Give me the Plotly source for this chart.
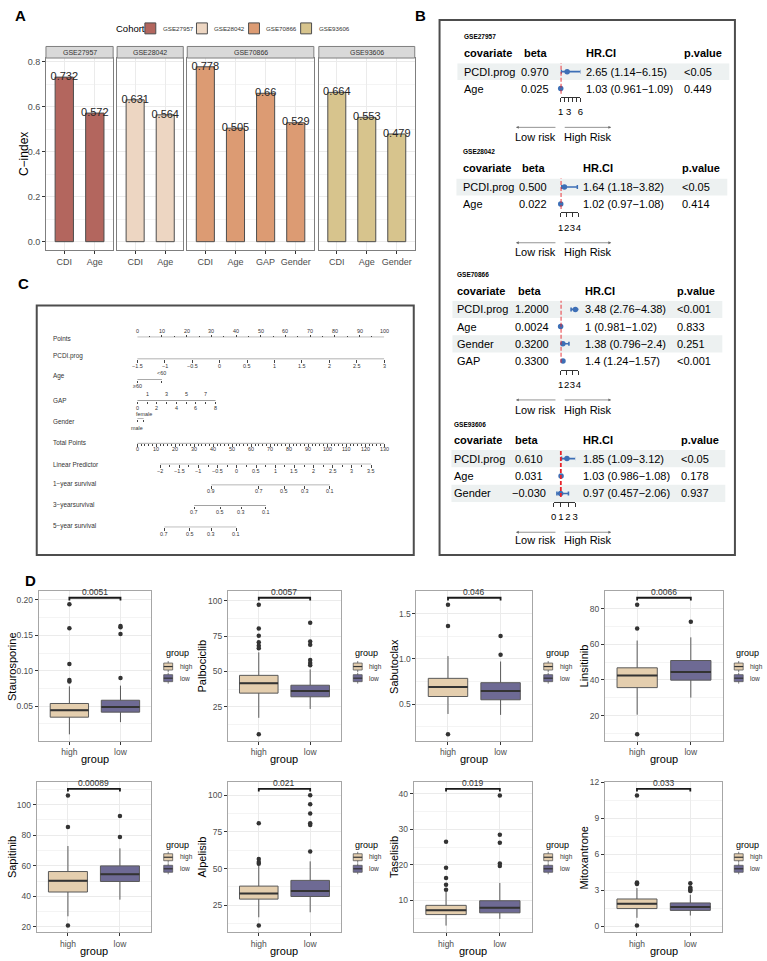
import plotly.graph_objects as go

W, H = 767, 961
FONT = "Liberation Sans, Arial, Helvetica, sans-serif"


def fx(p):
    return p / W


def fy(p):
    return 1 - p / H


# ======================= DATA =======================
# ---- Panel A: C-index per cohort ----
cohorts = ["GSE27957", "GSE28042", "GSE70866", "GSE93606"]
cohort_colors = ["#B3665E", "#EDD6C2", "#DC9B73", "#D7C48D"]
a_variables = [["CDI", "Age"], ["CDI", "Age"], ["CDI", "Age", "GAP", "Gender"], ["CDI", "Age", "Gender"]]
a_cindex = [[0.732, 0.572], [0.631, 0.564], [0.778, 0.505, 0.66, 0.529], [0.664, 0.553, 0.479]]
a_yticks = [0.0, 0.2, 0.4, 0.6, 0.8]
a_yminor = [0.1, 0.3, 0.5, 0.7]

# ---- Panel B: forest plots ----
b_covariates = [["PCDI.prog", "Age"], ["PCDI.prog", "Age"],
                ["PCDI.prog", "Age", "Gender", "GAP"], ["PCDI.prog", "Age", "Gender"]]
b_beta = [["0.970", "0.025"], ["0.500", "0.022"],
          ["1.2000", "0.0024", "0.3200", "0.3300"], ["0.610", "0.031", "\u22120.030"]]
b_hr = [[2.65, 1.03], [1.64, 1.02], [3.48, 1.0, 1.38, 1.4], [1.85, 1.03, 0.97]]
b_lo = [[1.14, 0.961], [1.18, 0.97], [2.76, 0.981, 0.796, 1.24], [1.09, 0.986, 0.457]]
b_hi = [[6.15, 1.09], [3.82, 1.08], [4.38, 1.02, 2.4, 1.57], [3.12, 1.08, 2.06]]
b_pval = [["<0.05", "0.449"], ["<0.05", "0.414"], ["<0.001", "0.833", "0.251", "<0.001"],
          ["<0.05", "0.178", "0.937"]]
b_ticks = [[1, 2, 3, 4, 5, 6], [1, 2, 3, 4], [1, 2, 3, 4], [0, 1, 2, 3]]
b_ticklabels = [["1", "", "3", "", "", "6"], ["1", "2", "3", "4"], ["1", "2", "3", "4"], ["0", "1", "2", "3"]]

# ---- Panel C: nomogram ----
nomo_points = [0, 10, 20, 30, 40, 50, 60, 70, 80, 90, 100]
nomo_points_minor = [5, 15, 25, 35, 45, 55, 65, 75, 85, 95]
nomo_pcdi = [-1.5, -1.0, -0.5, 0.0, 0.5, 1.0, 1.5, 2.0, 2.5, 3.0]
nomo_age_levels = ["\u226560", "<60"]
nomo_age_points = [0, 10]
nomo_gap = [0, 1, 2, 3, 4, 5, 6, 7, 8]
nomo_gap_max_points = 31.7
nomo_gender_levels = ["male", "female"]
nomo_gender_points = [0, 2.6]
nomo_total = [0, 10, 20, 30, 40, 50, 60, 70, 80, 90, 100, 110, 120, 130]
nomo_total_minor = [t for t in range(0, 131, 2) if t % 10]
nomo_lp = [-2.0, -1.5, -1.0, -0.5, 0.0, 0.5, 1.0, 1.5, 2.0, 2.5, 3.0, 3.5]
nomo_lp_minor = [-1.75, -1.25, -0.75, -0.25, 0.25, 0.75, 1.25, 1.75, 2.25, 2.75, 3.25]
nomo_lp_total_points = [12.0, 123.1]   # total points at LP = -2 and LP = 3.5
surv1_labels = ["0.9", "0.7", "0.5", "0.3", "0.1"]
surv1_total_points = [39.0, 63.9, 77.3, 88.2, 101.3]
surv3_labels = ["0.7", "0.5", "0.3", "0.1"]
surv3_total_points = [30.0, 43.7, 54.7, 67.7]
surv5_labels = ["0.7", "0.5", "0.3", "0.1"]
surv5_total_points = [14.3, 27.7, 39.0, 52.1]

# ---- Panel D: drug sensitivity boxplots ----
d_drugs = ["Staurosporine", "Palbociclib", "Sabutoclax", "Linsitinib",
           "Sapitinib", "Alpelisib", "Taselisib", "Mitoxantrone"]
d_pvals = ["0.0051", "0.0057", "0.046", "0.0066", "0.00089", "0.021", "0.019", "0.033"]
# [lower whisker, q1, median, q3, upper whisker]
d_high_stats = [[0.0103, 0.0345, 0.0444, 0.0538, 0.078],
                [17.1, 34.6, 41.6, 47.2, 63.5],
                [0.39, 0.583, 0.689, 0.784, 1.03],
                [20.5, 35.7, 42.5, 46.8, 62.1],
                [26.9, 42.8, 50.1, 56.2, 72.9],
                [16.7, 29.1, 32.9, 38.0, 52.0],
                [2.9, 6.0, 7.2, 8.6, 12.4],
                [0.7, 1.47, 1.88, 2.27, 3.18]]
d_low_stats = [[0.0275, 0.0416, 0.049, 0.0584, 0.079],
               [23.4, 32.0, 36.2, 40.2, 51.4],
               [0.38, 0.547, 0.645, 0.736, 0.97],
               [30.1, 39.9, 44.5, 50.9, 63.9],
               [37.8, 49.7, 54.5, 59.9, 71.4],
               [20.1, 30.9, 34.7, 41.9, 54.9],
               [4.8, 6.5, 7.9, 9.9, 14.9],
               [0.89, 1.32, 1.61, 1.94, 2.62]]
d_high_out = [[0.1937, 0.16, 0.1094, 0.087, 0.085],
              [97.3, 80.5, 75.2, 70.7, 68.2, 66.5, 5.4],
              [1.598, 1.362, 0.165],
              [82.2, 68.9, 9.5],
              [106.0, 85.4, 20.8],
              [80.9, 56.6, 54.5, 53.2, 11.0],
              [26.5, 19.2, 16.3, 14.4, 13.0],
              [10.9, 3.64, 3.58, 3.52, 0.05]]
d_low_out = [[0.1633, 0.1614, 0.152, 0.0897],
             [84.5, 71.2, 68.9, 58.0, 56.0, 54.3],
             [1.253, 1.046],
             [72.6],
             [92.6, 78.9],
             [100.0, 93.9, 87.6, 80.9, 79.7, 61.7],
             [39.5, 28.5, 26.2, 20.4, 19.7],
             [3.59, 3.23, 3.1, 3.02, 2.93]]
d_bracket_y = [0.203, 102.2, 1.675, 86.1, 110.4, 104.5, 41.4, 11.46]
d_yticks = [[0.05, 0.10, 0.15, 0.20], [25, 50, 75, 100], [0.5, 1.0, 1.5], [20, 40, 60, 80],
            [20, 40, 60, 80, 100], [25, 50, 75, 100], [10, 20, 30, 40], [0, 3, 6, 9, 12]]
d_yticklabels = [["0.05", "0.10", "0.15", "0.20"], ["25", "50", "75", "100"], ["0.5", "1.0", "1.5"],
                 ["20", "40", "60", "80"], ["20", "40", "60", "80", "100"], ["25", "50", "75", "100"],
                 ["10", "20", "30", "40"], ["0", "3", "6", "9", "12"]]
d_groups = ["high", "low"]
d_group_colors = ["#E4CEAE", "#6E6A94"]

# ======================= FIGURE =======================
traces = []
shapes = []
annotations = []
layout = dict(width=W, height=H, autosize=False, margin=dict(l=0, r=0, t=0, b=0),
              paper_bgcolor="white", plot_bgcolor="white", showlegend=False,
              hovermode=False, font=dict(family=FONT, color="#000000"))
n_ax = [0]


def new_axes(xdom, ydom, xa, ya):
    """xdom=(left_px,right_px), ydom=(top_px,bottom_px)"""
    n_ax[0] += 1
    s = "" if n_ax[0] == 1 else str(n_ax[0])
    xa = dict(xa)
    ya = dict(ya)
    xa.update(domain=[fx(xdom[0]), fx(xdom[1])], anchor="y" + s)
    ya.update(domain=[fy(ydom[1]), fy(ydom[0])], anchor="x" + s)
    layout["xaxis" + s] = xa
    layout["yaxis" + s] = ya
    return "x" + s, "y" + s


def ann(text, x, y, size, color="#000000", xanchor="center", yanchor="middle",
        xref="paper", yref="paper", angle=0, **kw):
    d = dict(text=text, x=fx(x) if xref == "paper" else x,
             y=fy(y) if yref == "paper" else y,
             xref=xref, yref=yref, xanchor=xanchor, yanchor=yanchor, showarrow=False,
             textangle=angle, font=dict(size=size, color=color, family=FONT))
    d.update(kw)
    return d


def rect(x0, x1, y0, y1, fill, line="#555", lw=1.0):
    return dict(type="rect", xref="paper", yref="paper", x0=fx(x0), x1=fx(x1),
                y0=fy(y1), y1=fy(y0), fillcolor=fill, line=dict(color=line, width=lw))


def seg(x0, y0, x1, y1, color="#555", lw=1.0):
    return dict(type="line", xref="paper", yref="paper", x0=fx(x0), x1=fx(x1),
                y0=fy(y0), y1=fy(y1), line=dict(color=color, width=lw))


# panel letters
for letter, (lx, ly) in zip("ABCD", [(18, 11), (421, 11), (21, 280), (28, 579)]):
    annotations.append(ann("<b>%s</b>" % letter, lx, ly, 15, "#000"))

# ---------------- Panel A ----------------
A_top, A_bot = 53.3, 246.7
a_xdoms = [(43.3, 111.0), (115.0, 181.7), (185.7, 313.3), (318.3, 415.0)]
a_max = max(max(v) for v in a_cindex)
a_range = [-0.05 * a_max, 1.05 * a_max]
for i, (coh, col, vars_, vals) in enumerate(zip(cohorts, cohort_colors, a_variables, a_cindex)):
    xa = dict(type="category", range=[-0.6, len(vars_) - 0.4], showline=True, mirror=True,
              linecolor="#7F7F7F", linewidth=1, ticks="outside", ticklen=3, tickcolor="#333",
              tickfont=dict(size=9, color="#4D4D4D"), showgrid=True, gridcolor="#EBEBEB",
              zeroline=False, fixedrange=True, tickangle=0)
    ya = dict(range=a_range, tickvals=a_yticks, ticktext=["%.1f" % t for t in a_yticks],
              showticklabels=(i == 0), ticks="outside" if i == 0 else "", ticklen=3,
              tickcolor="#333", tickfont=dict(size=9, color="#4D4D4D"), showline=True,
              mirror=True, linecolor="#7F7F7F", linewidth=1, showgrid=True,
              gridcolor="#EBEBEB", zeroline=False, fixedrange=True,
              minor=dict(tickvals=a_yminor, showgrid=True, gridcolor="#F4F4F4", gridwidth=0.6))
    xr, yr = new_axes(a_xdoms[i], (A_top, A_bot), xa, ya)
    traces.append(go.Bar(x=vars_, y=vals, xaxis=xr, yaxis=yr, width=0.6,
                         marker=dict(color=col, line=dict(color="#4D4D4D", width=1))))
    traces.append(go.Scatter(x=vars_, y=vals, mode="text", text=["%g" % v for v in vals],
                             textfont=dict(size=11, color="#262626", family=FONT),
                             xaxis=xr, yaxis=yr, cliponaxis=False))
    shapes.append(rect(a_xdoms[i][0], a_xdoms[i][1], 41.7, A_top, "#D9D9D9", "#7F7F7F", 1))
    annotations.append(ann(coh, (a_xdoms[i][0] + a_xdoms[i][1]) / 2, 47.6, 7, "#333333"))

annotations.append(ann("C\u2212index", 21, 150, 12, "#000000", angle=-90))
annotations.append(ann("Cohort", 112, 23.5, 9.5, "#000000", xanchor="left"))
for sx, coh, col in zip([143, 195, 247.5, 300], cohorts, cohort_colors):
    shapes.append(rect(sx, sx + 11, 18, 29, col, "#4D4D4D", 1))
    annotations.append(ann(coh, sx + 16, 23.5, 6.2, "#333333", xanchor="left"))

# ---------------- Panel B ----------------
shapes.append(rect(440, 737.7, 15, 553, "rgba(0,0,0,0)", "#4D4D4D", 2))
b_layout = [
    dict(label_y=32, head_y=48, row0=67.0, dy=17.0, arrow_y=123, risk_y=133, x_cov=463,
         x_beta=523, beta_c=536.5, x_hr=586, x_p=684, band=(458, 732), axis=(562, 582)),
    dict(label_y=147, head_y=164, row0=183.0, dy=17.0, arrow_y=239, risk_y=248, x_cov=462,
         x_beta=521, beta_c=534.5, x_hr=583, x_p=682, band=(457, 730), axis=(562, 580)),
    dict(label_y=271, head_y=287, row0=306.0, dy=17.3, arrow_y=397, risk_y=407, x_cov=456,
         x_beta=517, beta_c=533.5, x_hr=585, x_p=677, band=(453, 725), axis=(562, 580)),
    dict(label_y=422, head_y=437, row0=456.0, dy=17.5, arrow_y=530, risk_y=538, x_cov=453,
         x_beta=514, beta_c=530.5, x_hr=583, x_p=681, band=(452, 728), axis=(555, 576.7)),
]
BLUE = "#3D6FB6"
for k in range(4):
    L = b_layout[k]
    covs = b_covariates[k]
    n = len(covs)
    top = L["row0"] - L["dy"] / 2
    bot = L["row0"] + L["dy"] * (n - 1) + L["dy"] / 2
    xa = dict(range=[b_ticks[k][0], b_ticks[k][-1]], tickvals=b_ticks[k], ticktext=b_ticklabels[k],
              showline=True, linecolor="#333", linewidth=0.8, ticks="outside", ticklen=4,
              tickwidth=0.8, tickcolor="#333", tickfont=dict(size=9.5, color="#000000"),
              showgrid=False, zeroline=False, ticklabelstandoff=2, fixedrange=True,
              tickangle=0, ticklabeloverflow="allow")
    ya = dict(range=[n - 0.5, -0.5], visible=False, fixedrange=True)
    xr, yr = new_axes(L["axis"], (top, bot), xa, ya)
    for i in range(0, n, 2):
        shapes.append(dict(type="rect", xref="paper", yref=yr, x0=fx(L["band"][0]),
                           x1=fx(L["band"][1]), y0=i - 0.5, y1=i + 0.5, fillcolor="#EDF1F1",
                           line=dict(width=0), layer="below"))
    shapes.append(dict(type="line", xref=xr, yref=yr + " domain", x0=1, x1=1, y0=0.1, y1=1,
                       line=dict(color="#E8242A", width=1.8, dash="4px,2px")))
    hr, lo, hi = b_hr[k], b_lo[k], b_hi[k]
    traces.append(go.Scatter(
        x=hr, y=list(range(n)), mode="markers", xaxis=xr, yaxis=yr, cliponaxis=False,
        marker=dict(size=5.5, color=BLUE),
        error_x=dict(type="data", symmetric=False, array=[h - c for c, h in zip(hr, hi)],
                     arrayminus=[c - l for c, l in zip(hr, lo)], color=BLUE, thickness=1.6, width=2)))
    annotations.append(ann("<b>%s</b>" % cohorts[k], L["x_cov"], L["label_y"], 6.5, "#000000",
                           xanchor="left"))
    for txt, xx in [("covariate", L["x_cov"]), ("beta", L["x_beta"]), ("HR.CI", L["x_hr"]),
                    ("p.value", L["x_p"])]:
        annotations.append(ann("<b>%s</b>" % txt, xx, L["head_y"], 11, "#000000", xanchor="left"))
    for i in range(n):
        hrci = "%g (%g\u2212%g)" % (hr[i], lo[i], hi[i])
        annotations.append(ann(covs[i], L["x_cov"], i, 11, "#000000", xanchor="left", yref=yr))
        annotations.append(ann(b_beta[k][i], L["beta_c"], i, 11, "#000000", yref=yr))
        annotations.append(ann(hrci, L["x_hr"], i, 11, "#000000", xanchor="left", yref=yr))
        annotations.append(ann(b_pval[k][i], L["x_p"], i, 11, "#000000", xanchor="left", yref=yr))
    # risk arrows
    for head, tail in [(517, 558), (613, 565)]:
        annotations.append(dict(text="", x=fx(head), y=fy(L["arrow_y"]), xref="paper", yref="paper",
                                showarrow=True, ax=tail - head, ay=0, axref="pixel", ayref="pixel",
                                arrowhead=2, arrowsize=0.8, arrowwidth=0.7, arrowcolor="#666"))
    annotations.append(ann("Low risk", 537, L["risk_y"], 11, "#000000"))
    annotations.append(ann("High Risk", 590, L["risk_y"], 11, "#000000"))

# ---------------- Panel C ----------------
shapes.append(rect(34, 414, 302, 553, "rgba(0,0,0,0)", "#4D4D4D", 2))
NX = (135.3, 384.3)


def fmt(v):
    return ("%g" % v).replace("-", "\u2212")


lp_scale = (nomo_lp_total_points[1] - nomo_lp_total_points[0]) / (nomo_lp[-1] - nomo_lp[0])


def lp_tp(v):
    return nomo_lp_total_points[0] + (v - nomo_lp[0]) * lp_scale


pcdi_pts = [(v - nomo_pcdi[0]) / (nomo_pcdi[-1] - nomo_pcdi[0]) * 100 for v in nomo_pcdi]
gap_pts = [v / nomo_gap[-1] * nomo_gap_max_points for v in nomo_gap]
nomo_rows = [
    dict(name="Points", name_y=335, line_y=334, unit=100, pos=nomo_points,
         labels=[fmt(v) for v in nomo_points], lab_y=[328] * 11, minor=nomo_points_minor, tdir="inside"),
    dict(name="PCDI.prog", name_y=353, line_y=356, unit=100, pos=pcdi_pts,
         labels=[fmt(v) for v in nomo_pcdi], lab_y=[362.7] * 10, minor=None, tdir="outside"),
    dict(name="Age", name_y=373, line_y=376.7, unit=100, pos=nomo_age_points,
         labels=nomo_age_levels, lab_y=[383, 370], minor=None, tdir="outside"),
    dict(name="GAP", name_y=398, line_y=397.7, unit=100, pos=gap_pts,
         labels=[fmt(v) for v in nomo_gap], lab_y=[405 if v % 2 == 0 else 391 for v in nomo_gap],
         minor=None, tdir="outside"),
    dict(name="Gender", name_y=419, line_y=415.7, unit=100, pos=nomo_gender_points,
         labels=nomo_gender_levels, lab_y=[425.5, 411.5], minor=None, tdir="outside"),
    dict(name="Total Points", name_y=440, line_y=440.7, unit=130, pos=nomo_total,
         labels=[fmt(v) for v in nomo_total], lab_y=[446.7] * 14, minor=nomo_total_minor, tdir="outside"),
    dict(name="Linear Predictor", name_y=462, line_y=461.7, unit=130, pos=[lp_tp(v) for v in nomo_lp],
         labels=[fmt(v) for v in nomo_lp], lab_y=[468.3] * 12, minor=[lp_tp(v) for v in nomo_lp_minor],
         tdir="outside"),
    dict(name="1\u2212year survival", name_y=482, line_y=482.7, unit=130, pos=surv1_total_points,
         labels=surv1_labels, lab_y=[489] * 5, minor=None, tdir="outside"),
    dict(name="3\u2212yearsurvival", name_y=503, line_y=503.3, unit=130, pos=surv3_total_points,
         labels=surv3_labels, lab_y=[510] * 4, minor=None, tdir="outside"),
    dict(name="5\u2212year survival", name_y=524, line_y=525, unit=130, pos=surv5_total_points,
         labels=surv5_labels, lab_y=[531.7] * 4, minor=None, tdir="outside"),
]
for r in nomo_rows:
    xa = dict(range=[0, r["unit"]], tickvals=r["pos"], showticklabels=False, ticks=r["tdir"],
              ticklen=2.5, tickwidth=0.6, tickcolor="#444", showline=False, showgrid=False,
              zeroline=False, fixedrange=True)
    if r["minor"]:
        xa["minor"] = dict(tickvals=r["minor"], ticks=r["tdir"], ticklen=1.6, tickwidth=0.5,
                           tickcolor="#444", showgrid=False)
    ya = dict(range=[0, 2], visible=False, fixedrange=True)
    xr, yr = new_axes(NX, (r["line_y"] - 2, r["line_y"]), xa, ya)
    traces.append(go.Scatter(x=[min(r["pos"]), max(r["pos"])], y=[0, 0], mode="lines",
                             line=dict(color="#444", width=0.8), xaxis=xr, yaxis=yr, cliponaxis=False))
    annotations.append(ann(r["name"], 48.3, r["name_y"], 6.4, "#333333", xanchor="left"))
    for p, lab, ly in zip(r["pos"], r["labels"], r["lab_y"]):
        annotations.append(ann(lab, p, ly, 5.4, "#333333", xref=xr))

# ---------------- Panel D ----------------
d_xdoms = [[(36, 149.3), (226.7, 340.7), (416.7, 533.3), (606.7, 725.7)],
           [(34, 149.3), (226.7, 340.7), (414, 533.3), (606.7, 725)]]
d_ydoms = [(589, 740), (781, 932.3)]
d_leg_x = [162, 353, 545, 737]
d_leg_y = [(651.7, 665, 676.7), (844.3, 856.7, 868.3)]
d_title_x = [9, 201, 394, 586]
d_group_y = [758, 951]

for k, drug in enumerate(d_drugs):
    row, col = divmod(k, 4)
    xd, yd = d_xdoms[row][col], d_ydoms[row]
    allv = d_high_stats[k] + d_low_stats[k] + d_high_out[k] + d_low_out[k] + [d_bracket_y[k]]
    lo, hi = min(allv), max(allv)
    span = hi - lo
    rng = [lo - 0.05 * span, hi + 0.05 * span]
    ticks = d_yticks[k]
    step = ticks[1] - ticks[0]
    minor = [t + step / 2 for t in [ticks[0] - step] + ticks if rng[0] < t + step / 2 < rng[1]]
    xa = dict(range=[0.4, 2.6], tickvals=[1, 2], ticktext=d_groups, showline=True, mirror=True,
              linecolor="#A6A6A6", linewidth=1, ticks="outside", ticklen=3, tickcolor="#333",
              tickfont=dict(size=8.5, color="#4D4D4D"), showgrid=True, gridcolor="#EBEBEB",
              zeroline=False, fixedrange=True)
    ya = dict(range=rng, tickvals=ticks, ticktext=d_yticklabels[k], showline=True, mirror=True,
              linecolor="#A6A6A6", linewidth=1, ticks="outside", ticklen=3, tickcolor="#333",
              tickfont=dict(size=8.5, color="#4D4D4D"), showgrid=True, gridcolor="#EBEBEB",
              zeroline=False, fixedrange=True,
              minor=dict(tickvals=minor, showgrid=True, gridcolor="#F4F4F4", gridwidth=0.6))
    xr, yr = new_axes(xd, yd, xa, ya)
    for gi, (stats, outs, color) in enumerate([(d_high_stats[k], d_high_out[k], d_group_colors[0]),
                                                (d_low_stats[k], d_low_out[k], d_group_colors[1])]):
        xpos = gi + 1
        traces.append(go.Box(x=[xpos], lowerfence=[stats[0]], q1=[stats[1]], median=[stats[2]],
                             q3=[stats[3]], upperfence=[stats[4]], width=0.75, whiskerwidth=0,
                             fillcolor=color, line=dict(color="#595959", width=1), boxpoints=False,
                             orientation="v", xaxis=xr, yaxis=yr))
        m = stats[2]
        traces.append(go.Box(x=[xpos], lowerfence=[m], q1=[m], median=[m], q3=[m], upperfence=[m],
                             width=0.75, whiskerwidth=0, fillcolor="rgba(0,0,0,0)",
                             line=dict(color="#333", width=2), boxpoints=False, orientation="v",
                             xaxis=xr, yaxis=yr))
        traces.append(go.Scatter(x=[xpos] * len(outs), y=outs, mode="markers",
                                 marker=dict(size=4.5, color="#333"), xaxis=xr, yaxis=yr,
                                 cliponaxis=False))
    b = d_bracket_y[k]
    tip = 0.02 * span
    traces.append(go.Scatter(x=[1, 1, 2, 2], y=[b - tip, b, b, b - tip], mode="lines",
                             line=dict(color="#1a1a1a", width=1.8), xaxis=xr, yaxis=yr,
                             cliponaxis=False))
    annotations.append(ann(d_pvals[k], 1.5, b, 8.5, "#333333", xref=xr, yref=yr, yanchor="bottom",
                           yshift=-1.5))
    # axis titles
    annotations.append(ann(drug, d_title_x[col], (yd[0] + yd[1]) / 2, 11, "#000000", angle=-90))
    annotations.append(ann("group", (xd[0] + xd[1]) / 2, d_group_y[row], 11, "#000000"))
    # legend
    lx = d_leg_x[col]
    ty, hy, ly = d_leg_y[row]
    annotations.append(ann("group", lx, ty, 9, "#000000", xanchor="left"))
    for gname, gcol, yk in zip(d_groups, d_group_colors, [hy, ly]):
        shapes.append(seg(lx + 4.5, yk - 5.5, lx + 4.5, yk + 5.5, "#595959", 0.8))
        shapes.append(rect(lx, lx + 9, yk - 3.5, yk + 3.5, gcol, "#595959", 0.8))
        shapes.append(seg(lx, yk, lx + 9, yk, "#333", 1.2))
        annotations.append(ann(gname, lx + 14, yk, 6.5, "#333333", xanchor="left"))

layout["shapes"] = shapes
layout["annotations"] = annotations
fig = go.Figure(data=traces, layout=layout)
fig.write_html("out.html")
